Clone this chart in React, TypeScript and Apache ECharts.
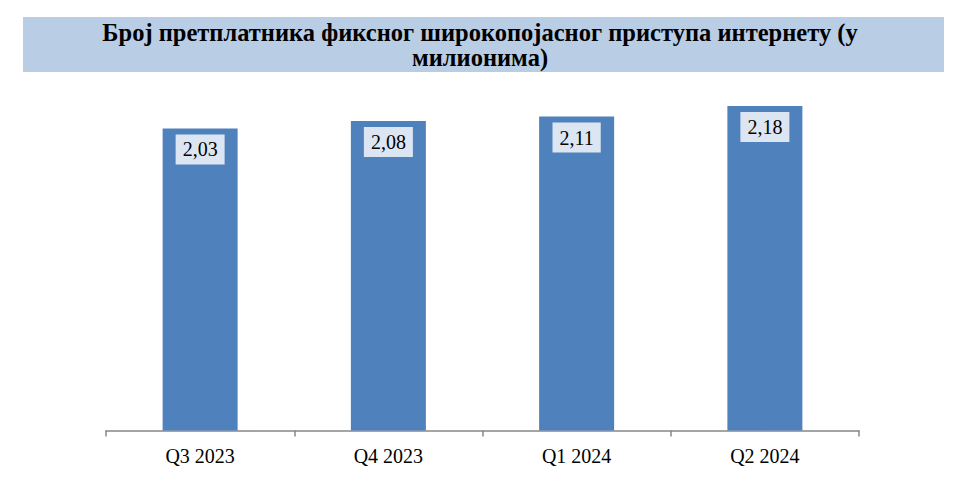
import React, { useEffect, useRef } from "react";
import * as echarts from "echarts";

const titleText = "Број претплатника фиксног широкопојасног приступа интернету (у\nмилионима)";
const categories = ["Q3 2023", "Q4 2023", "Q1 2024", "Q2 2024"];
const values = [2.03, 2.08, 2.11, 2.18];

const fmt = (v: number) => v.toFixed(2).replace(".", ",");

export default function App() {
  const ref = useRef<HTMLDivElement>(null);
  useEffect(() => {
    if (!ref.current) return;
    const chart = echarts.init(ref.current, null, { renderer: "svg" });
    chart.setOption({
      animation: false,
      backgroundColor: "#ffffff",
      title: {
        text: titleText,
        left: "center",
        top: 20,
        padding: 0,
        z: 10,
        textStyle: {
          fontFamily: "Liberation Serif",
          fontWeight: "bold",
          fontSize: 24.5,
          lineHeight: 25,
          color: "#000000",
        },
      },
      graphic: [
        {
          type: "rect",
          z: -10,
          shape: { x: 23, y: 17, width: 921, height: 55 },
          style: { fill: "#B9CDE5" },
          silent: true,
        },
      ],
      grid: { left: 106, right: 101, top: 58.5, bottom: 57.5, containLabel: false },
      xAxis: {
        type: "category",
        data: categories,
        axisLine: { show: true, lineStyle: { color: "#878787", width: 1.5 } },
        axisTick: { show: true, length: 6, lineStyle: { color: "#878787", width: 1.5 } },
        axisLabel: {
          fontFamily: "Liberation Serif",
          fontSize: 20,
          color: "#000000",
          margin: 15,
        },
      },
      yAxis: {
        type: "value",
        min: 0,
        max: 2.5,
        show: false,
        splitLine: { show: false },
      },
      series: [
        {
          type: "bar",
          data: values,
          barWidth: 75,
          itemStyle: { color: "#4F81BD" },
          label: {
            show: true,
            position: "insideTop",
            distance: 6,
            formatter: (p: any) => fmt(p.value),
            backgroundColor: "#DCE6F2",
            padding: [5, 7, 5, 7],
            fontFamily: "Liberation Serif",
            fontSize: 20,
            lineHeight: 20,
            color: "#000000",
          },
        },
      ],
    });
    return () => chart.dispose();
  }, []);
  return (
    <div
      ref={ref}
      style={{ position: "fixed", left: 0, top: 0, width: 960, height: 488 }}
    />
  );
}
